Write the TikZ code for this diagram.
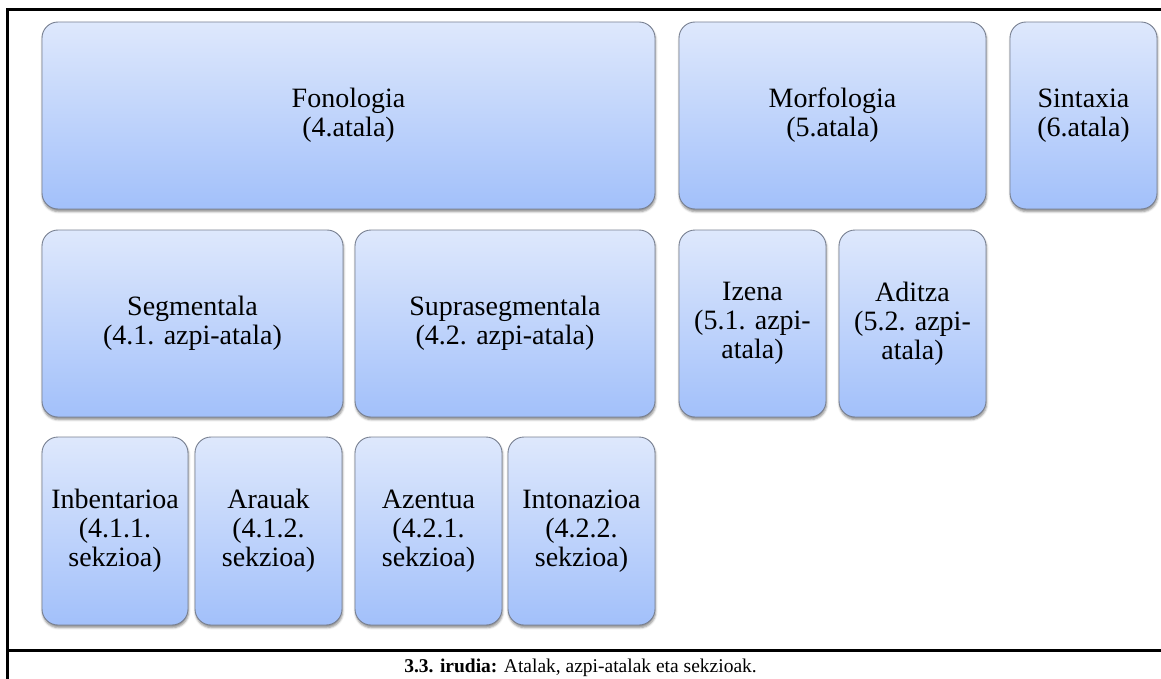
\documentclass[tikz,border=0pt]{standalone}
\usepackage{fontspec}
\setmainfont{Liberation Serif}
\usetikzlibrary{shadows.blur}

\definecolor{boxtop}{RGB}{222,232,252}
\definecolor{boxbottom}{RGB}{162,192,250}
\definecolor{boxline}{RGB}{120,128,145}

\tikzset{
  part/.style={
    draw=boxline, line width=0.9pt, rounded corners=16pt,
    top color=boxtop, bottom color=boxbottom,
    blur shadow={shadow xshift=0.6pt, shadow yshift=-2.6pt,
                 shadow blur radius=2.2pt, shadow opacity=45},
    align=center, inner sep=0pt, text=black,
    font=\fontsize{28}{29}\selectfont
  },
  frameline/.style={line width=2.6pt, black}
}

% place a box by its left, top, right, bottom edges (pixel units, y downwards)
\newcommand{\partbox}[6]{%
  \pgfmathsetmacro{\pbw}{#4-#2}%
  \pgfmathsetmacro{\pbh}{#5-#3}%
  \node[part, minimum width=\pbw pt, minimum height=\pbh pt]
    (#1) at ({(#2+#4)/2},{(#3+#5)/2}) {#6};%
}

\begin{document}
\begin{tikzpicture}[x=1pt,y=-1pt]
  \useasboundingbox (0,0) rectangle (1161,679);

  % frame of the figure and caption row
  \coordinate (ftl) at (7.5,9.5);
  \coordinate (ftr) at (1161,9.5);
  \coordinate (fbl) at (7.5,679);
  \coordinate (cl) at (7.5,650.5);
  \coordinate (cr) at (1161,650.5);
  \draw[frameline] (ftr) -- (ftl) -- (fbl);
  \draw[frameline] (cl) -- (cr);

  % sections
  \partbox{fono}{42}{22}{655}{209}{Fonologia\\(4.atala)}
  \partbox{morfo}{679}{22}{986}{209}{Morfologia\\(5.atala)}
  \partbox{sintax}{1010}{22}{1157}{209}{Sintaxia\\(6.atala)}

  % subsections
  \partbox{segm}{42}{230}{343}{417}{Segmentala\\(4.1. azpi-atala)}
  \partbox{supra}{355}{230}{655}{417}{Suprasegmentala\\(4.2. azpi-atala)}
  \partbox{izena}{679}{230}{826}{417}{Izena\\(5.1. azpi-\\atala)}
  \partbox{aditza}{839}{230}{986}{417}{Aditza\\(5.2. azpi-\\atala)}

  % subsubsections
  \partbox{inbent}{42}{437}{188}{625}{Inbentarioa\\(4.1.1.\\sekzioa)}
  \partbox{arauak}{195}{437}{342}{625}{Arauak\\(4.1.2.\\sekzioa)}
  \partbox{azent}{355}{437}{502}{625}{Azentua\\(4.2.1.\\sekzioa)}
  \partbox{inton}{508}{437}{655}{625}{Intonazioa\\(4.2.2.\\sekzioa)}

  % caption
  \node[font=\fontsize{19.5}{23}\selectfont, anchor=base, inner sep=0pt] (caption)
    at (580.5,672.5) {\textbf{3.3. irudia:} Atalak, azpi-atalak eta sekzioak.};
\end{tikzpicture}
\end{document}
